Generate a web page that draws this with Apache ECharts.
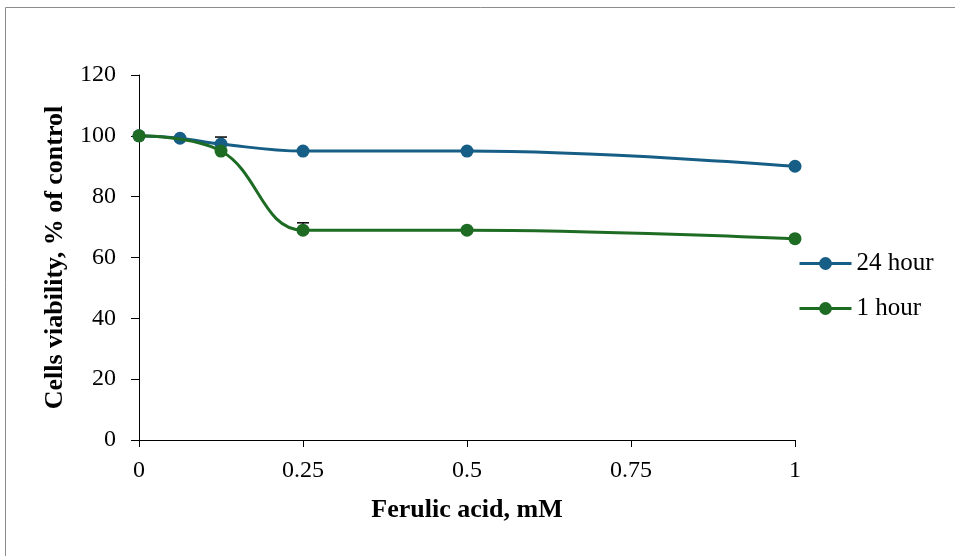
<!DOCTYPE html>
<html>
<head>
<meta charset="utf-8">
<script src="https://cdn.jsdelivr.net/npm/echarts@6/dist/echarts.min.js"></script>
<style>
  html, body { margin: 0; padding: 0; background: #fff; }
  #chart { width: 955px; height: 556px; }
</style>
</head>
<body>
<div id="chart"></div>
<script>
// Ferulic acid concentrations (mM) and viability (% of control)
const doses24 = [0, 0.0625, 0.125, 0.25, 0.5, 1];
const viability24 = [100, 99.2, 97.3, 95, 95, 90];
const doses1 = [0, 0.125, 0.25, 0.5, 1];
const viability1 = [100, 95, 69, 69, 66.2];

// Positive error bars (dose, mean, error)
const err24Dose = [0.125];
const err24Mean = [97.3];
const err24Size = [2.3];
const err1Dose = [0.25];
const err1Mean = [69];
const err1Size = [2.4];

const xTicks = [0, 0.25, 0.5, 0.75, 1];
const yTicks = [0, 20, 40, 60, 80, 100, 120];

const blue = '#175E86';
const green = '#1E6C24';
const serif = '"Liberation Serif", "Times New Roman", serif';

function pairs(xs, ys) { return xs.map((x, i) => [x, ys[i]]); }
function errRows(xs, ms, es) { return xs.map((x, i) => [x, ms[i], ms[i] + es[i]]); }

function renderErr(params, api) {
  const base = api.coord([api.value(0), api.value(1)]);
  const top = api.coord([api.value(0), api.value(2)]);
  const hw = 6;
  return {
    type: 'group',
    children: [
      { type: 'line', shape: { x1: base[0], y1: base[1], x2: top[0], y2: top[1] },
        style: { stroke: '#000', lineWidth: 1.3 } },
      { type: 'line', shape: { x1: top[0] - hw, y1: top[1], x2: top[0] + hw, y2: top[1] },
        style: { stroke: '#000', lineWidth: 1.5 } }
    ]
  };
}

const chart = echarts.init(document.getElementById('chart'), null, { renderer: 'canvas' });
chart.setOption({
  animation: false,
  backgroundColor: '#fff',
  graphic: [{
    type: 'rect', silent: true,
    shape: { x: 5.5, y: 7.5, width: 1000, height: 600 },
    style: { fill: 'none', stroke: '#8c8c8c', lineWidth: 1 }
  }],
  grid: { left: 139, right: 160, top: 75, bottom: 116, containLabel: false },
  legend: {
    orient: 'vertical',
    left: 793, top: 246,
    itemWidth: 52, itemHeight: 16, itemGap: 20,
    data: ['24 hour', '1 hour'],
    lineStyle: { width: 3 },
    textStyle: { fontFamily: serif, fontSize: 25, color: '#000' }
  },
  xAxis: {
    type: 'value', min: 0, max: 1, interval: 0.25,
    name: 'Ferulic acid, mM', nameLocation: 'middle', nameGap: 57,
    nameTextStyle: { fontFamily: serif, fontSize: 26, fontWeight: 'bold', color: '#000' },
    axisLine: { lineStyle: { color: '#000', width: 1 } },
    axisTick: { show: true, length: 7, lineStyle: { color: '#000' } },
    axisLabel: { fontFamily: serif, fontSize: 24, color: '#000', margin: 19,
      formatter: v => { const t = xTicks.find(k => Math.abs(k - v) < 1e-9); return t === undefined ? '' : String(t); } },
    splitLine: { show: false }
  },
  yAxis: {
    type: 'value', min: 0, max: 120, interval: 20,
    name: 'Cells viability, % of control', nameLocation: 'middle', nameGap: 71,
    nameTextStyle: { fontFamily: serif, fontSize: 26, fontWeight: 'bold', color: '#000' },
    axisLine: { show: true, lineStyle: { color: '#000', width: 1 } },
    axisTick: { show: true, length: 8, lineStyle: { color: '#000' } },
    axisLabel: { fontFamily: serif, fontSize: 24, color: '#000', margin: 23,
      formatter: v => yTicks.includes(v) ? String(v) : '' },
    splitLine: { show: false }
  },
  series: [
    {
      type: 'custom', name: 'err24', renderItem: renderErr, z: 1,
      data: errRows(err24Dose, err24Mean, err24Size), silent: true
    },
    {
      type: 'custom', name: 'err1', renderItem: renderErr, z: 1,
      data: errRows(err1Dose, err1Mean, err1Size), silent: true
    },
    {
      type: 'line', name: '24 hour', data: pairs(doses24, viability24),
      smooth: 0.4, symbol: 'circle', symbolSize: 13, z: 2,
      lineStyle: { color: blue, width: 3 }, itemStyle: { color: blue }
    },
    {
      type: 'line', name: '1 hour', data: pairs(doses1, viability1),
      smooth: 0.4, symbol: 'circle', symbolSize: 13, z: 3,
      lineStyle: { color: green, width: 3 }, itemStyle: { color: green }
    }
  ]
});
</script>
</body>
</html>
